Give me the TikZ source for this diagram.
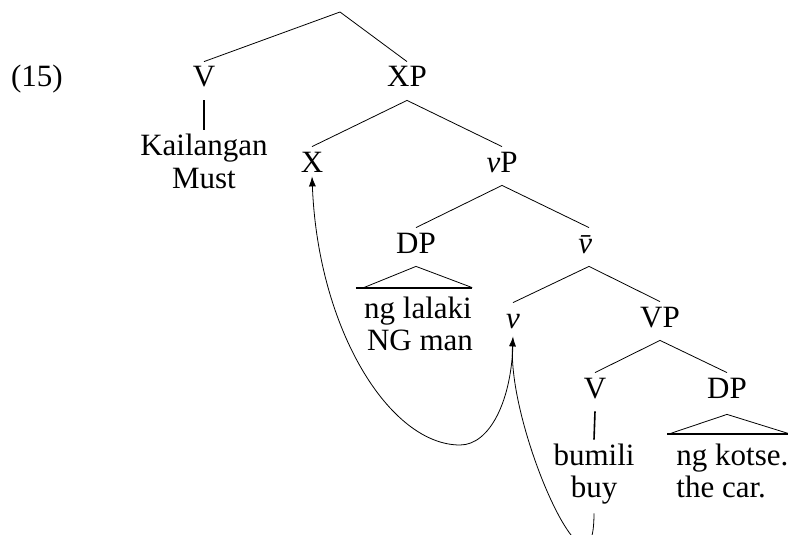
\documentclass[tikz,border=0pt]{standalone}
\usepackage{fontspec}
\setmainfont{Liberation Serif}
\usetikzlibrary{arrows.meta}

\begin{document}
\begin{tikzpicture}[x=1pt, y=-1pt, line width=0.8pt,
    every node/.style={font=\fontsize{31}{33}\selectfont},
    lbl/.style={anchor=base, inner sep=0pt, text height=25pt, text depth=13pt},
    unary/.style={line width=1.6pt},
    roofbase/.style={line width=2pt},
    move/.style={-{Latex[length=10pt,width=7pt]}}]

        \useasboundingbox (0,0) rectangle (788,535);

        % example number and labels
        \node[anchor=base] (num) at (37,87) {(15)};
        \coordinate (root) at (340,12);
        \node[lbl] (V1) at (204,87) {V};
        \node[lbl] (XP) at (407,87) {XP};
        \node[lbl] (kail) at (204,155) {Kailangan};
        \node[lbl] (must) at (204,188) {Must};
        \node[lbl] (X) at (312,172) {X};
        \node[lbl] (vP) at (502,172) {\textit{v}P};
        \node[lbl] (DP1) at (416,253) {DP};
        \node[lbl] (vbar) at (589,253) {\textit{\=v}};
        \node[lbl] (lalaki) at (418,318) {ng lalaki};
        \node[lbl] (man) at (420,350) {NG man};
        \node[lbl] (v) at (513,328) {\textit{v}};
        \node[lbl] (VP) at (660,327) {VP};
        \node[lbl] (V2) at (595,398) {V};
        \node[lbl] (DP2) at (727,398) {DP};
        \node[lbl] (bumili) at (594,465) {bumili};
        \node[lbl] (buy) at (594,497) {buy};
        \node[lbl, anchor=base west] (kotse) at (676,465) {ng kotse.};
        \node[lbl, anchor=base west] (car) at (676,497) {the car.};

        % branches
        \draw (V1.north) -- (root) -- (XP.north);
        \draw (X.north) -- (XP.south) -- (vP.north);
        \draw (DP1.north) -- (vP.south) -- (vbar.north);
        \draw (v.north) -- (vbar.south) -- (VP.north);
        \draw (V2.north) -- (VP.south) -- (DP2.north);
        \draw[unary] (V1.south) -- (kail.north);
        \draw[unary] (V2.south) -- (bumili.north);

        % roofs
        \draw ([yshift=5pt]lalaki.north west) -- (DP1.south) -- ([yshift=5pt]lalaki.north east);
        \draw[roofbase] ([xshift=-8pt,yshift=5pt]lalaki.north west) -- ([yshift=5pt]lalaki.north east);
        \draw ([xshift=-6pt,yshift=6pt]kotse.north west) -- ([yshift=-3pt]DP2.south) -- ([yshift=6pt]kotse.north east);
        \draw[roofbase] ([xshift=-9pt,yshift=6pt]kotse.north west) -- ([yshift=6pt]kotse.north east);

        % movement
        \coordinate (dip) at (460,445);
        \draw[move] (v.south) .. controls (512,400) and (490,445) .. (dip)
            .. controls (390,445) and (318,330) .. ([yshift=9pt]X.south);
        \draw[move] ([yshift=-3pt]buy.south) .. controls (594,620) and (508,430) .. ([yshift=5pt]v.south);

\end{tikzpicture}
\end{document}
